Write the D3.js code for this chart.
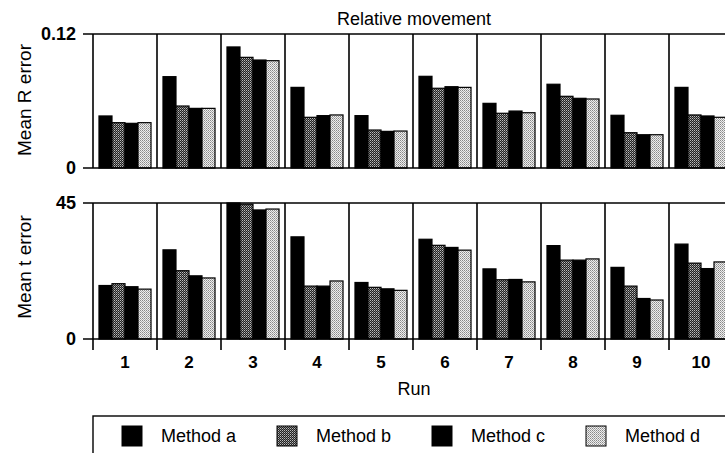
<!DOCTYPE html>
<html><head><meta charset="utf-8">
<script src="https://cdn.jsdelivr.net/npm/d3@7"></script>
<style>body{margin:0;background:#fff}svg{display:block}text{font-family:"Liberation Sans",Arial,sans-serif;fill:#000}</style>
</head><body><svg id="c" width="725" height="453"></svg>
<script>
const runs = ["1","2","3","4","5","6","7","8","9","10"];
const methods = ["Method a","Method b","Method c","Method d"];
const rError = {
  "Method a": [0.0466,0.0818,0.1084,0.0722,0.0469,0.0821,0.0579,0.0750,0.0472,0.0722],
  "Method b": [0.0406,0.0555,0.0991,0.0454,0.0340,0.0714,0.0490,0.0642,0.0316,0.0475],
  "Method c": [0.0400,0.0534,0.0967,0.0469,0.0328,0.0728,0.0510,0.0624,0.0298,0.0466],
  "Method d": [0.0406,0.0534,0.0961,0.0475,0.0331,0.0722,0.0495,0.0618,0.0298,0.0454]
};
const tError = {
  "Method a": [17.7,29.5,45.0,33.8,18.7,33.0,23.2,30.9,23.7,31.4],
  "Method b": [18.3,22.6,44.6,17.5,17.1,31.0,19.6,26.1,17.5,25.1],
  "Method c": [17.3,20.9,42.7,17.5,16.6,30.3,19.7,26.1,13.4,23.3],
  "Method d": [16.5,20.2,43.0,19.2,16.1,29.4,18.9,26.5,12.9,25.5]
};
const rTicks = [0, 0.12];
const tTicks = [0, 45];
const fills = {"Method a":"#000","Method b":"url(#patB)","Method c":"#000","Method d":"url(#patD)"};
const FONT = '"Liberation Sans",Arial,sans-serif';

const svg = d3.select("#c");
const defs = svg.append("defs");
// dark stipple
const pb = defs.append("pattern").attr("id","patB").attr("patternUnits","userSpaceOnUse").attr("width",2).attr("height",2);
pb.append("rect").attr("width",2).attr("height",2).attr("fill","#222");
pb.append("rect").attr("x",0).attr("y",0).attr("width",1).attr("height",1).attr("fill","#bbb");
pb.append("rect").attr("x",1).attr("y",1).attr("width",1).attr("height",1).attr("fill","#777");
// light stipple
const pd = defs.append("pattern").attr("id","patD").attr("patternUnits","userSpaceOnUse").attr("width",2).attr("height",2);
pd.append("rect").attr("width",2).attr("height",2).attr("fill","#eee");
pd.append("rect").attr("x",0).attr("y",0).attr("width",1).attr("height",1).attr("fill","#888");
pd.append("rect").attr("x",1).attr("y",1).attr("width",1).attr("height",1).attr("fill","#aaa");

const x = d3.scaleBand().domain(runs).range([93, 733]).paddingInner(0).paddingOuter(0);
const xm = d3.scaleBand().domain(methods).range([0, x.bandwidth()]).paddingInner(0).paddingOuter(0.46);

function panel(data, y, ticks, fmt, label, labelY) {
  const g = svg.append("g");
  const [y0, y1] = y.range();
  methods.forEach(m => {
    g.selectAll(null).data(runs).join("rect")
      .attr("x", r => x(r) + xm(m))
      .attr("width", xm.bandwidth())
      .attr("y", (r,i) => y(data[m][i]))
      .attr("height", (r,i) => y0 - y(data[m][i]))
      .attr("fill", fills[m]).attr("stroke","#000").attr("stroke-width",1.2);
  });
  g.selectAll(null).data(runs).join("line")
    .attr("x1", r => x(r)).attr("x2", r => x(r))
    .attr("y1", y0).attr("y2", y1).attr("stroke","#000").attr("stroke-width",1.6);
  ticks.forEach(t => {
    g.append("line").attr("x1",83).attr("x2",733).attr("y1",y(t)).attr("y2",y(t))
      .attr("stroke","#000").attr("stroke-width",1.6);
  });
  const ax = g.append("g").attr("transform","translate(93,0)")
    .call(d3.axisLeft(y).tickValues(ticks).tickFormat(fmt).tickSize(10).tickPadding(7));
  ax.select(".domain").remove();
  ax.selectAll(".tick line").attr("stroke","none");
  ax.selectAll("text").attr("font-size",18).attr("font-weight","bold").style("font-family",FONT);
  svg.append("text").attr("transform",`translate(31,${labelY}) rotate(-90)`)
    .attr("text-anchor","middle").attr("font-size",19).text(label);
}

const yR = d3.scaleLinear().domain([0,0.12]).range([168,34]);
const yT = d3.scaleLinear().domain([0,45]).range([339,203]);
panel(rError, yR, rTicks, v => v === 0 ? "0" : d3.format(".2f")(v), "Mean R error", 100);
panel(tError, yT, tTicks, d3.format("d"), "Mean t error", 267);

// bottom axis
const bx = svg.append("g").attr("transform","translate(0,339)")
  .call(d3.axisBottom(x).tickSize(0).tickPadding(17));
bx.select(".domain").remove();
bx.selectAll("text").attr("font-size",17).attr("font-weight","bold").style("font-family",FONT);
svg.selectAll(null).data(runs).join("line")
  .attr("x1", r => x(r)).attr("x2", r => x(r)).attr("y1",339).attr("y2",350)
  .attr("stroke","#000").attr("stroke-width",1.6);

svg.append("text").attr("x",414).attr("y",25).attr("text-anchor","middle").attr("font-size",18).text("Relative movement");
svg.append("text").attr("x",414).attr("y",395).attr("text-anchor","middle").attr("font-size",18).text("Run");

// legend
svg.append("rect").attr("x",93).attr("y",416).attr("width",660).attr("height",60)
  .attr("fill","none").attr("stroke","#000").attr("stroke-width",1.4);
const legX = [122, 277, 432, 586];
methods.forEach((m,i) => {
  svg.append("rect").attr("x",legX[i]).attr("y",426).attr("width",20).attr("height",20)
    .attr("fill",fills[m]).attr("stroke","#000").attr("stroke-width",1);
  svg.append("text").attr("x",legX[i]+39).attr("y",442).attr("font-size",18).text(m);
});
</script></body></html>
